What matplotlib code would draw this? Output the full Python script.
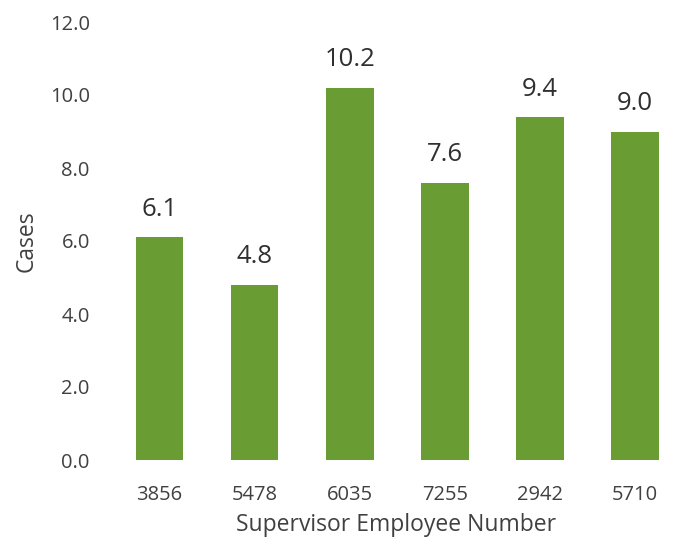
import matplotlib.pyplot as plt

# chart data
supervisors = ["3856", "5478", "6035", "7255", "2942", "5710"]
cases = [6.1, 4.8, 10.2, 7.6, 9.4, 9.0]
y_ticks = [0, 2, 4, 6, 8, 10, 12]

BAR_COLOR = "#6a9c34"
TEXT_COLOR = "#404040"

plt.rcParams["font.family"] = ["Open Sans", "DejaVu Sans"]

fig = plt.figure(figsize=(6.81, 5.44), dpi=100)
ax = fig.add_axes([112 / 681, (544 - 460) / 544, 568 / 681, 438 / 544])

x = range(len(supervisors))
bars = ax.bar(x, cases, width=0.5, color=BAR_COLOR)

for i, v in enumerate(cases):
    ax.text(i, v + 0.42, f"{v:.1f}", ha="center", va="bottom",
            fontsize=18.5, color="#303030")

ax.set_ylim(0, 12)
ax.set_xlim(-0.5, 5.47)
ax.set_yticks(y_ticks)
ax.set_yticklabels([f"{t:.1f}" for t in y_ticks])
ax.set_xticks(list(x))
ax.set_xticklabels(supervisors)
ax.tick_params(length=0, labelsize=14.5, labelcolor=TEXT_COLOR)
ax.tick_params(axis="y", pad=16)
ax.tick_params(axis="x", pad=18)

for s in ax.spines.values():
    s.set_visible(False)

ax.set_ylabel("Cases", fontsize=16.5, color=TEXT_COLOR, labelpad=8)
ax.set_xlabel("Supervisor Employee Number", fontsize=16.5, color=TEXT_COLOR, labelpad=6)

fig.savefig("out.png", dpi=100)
